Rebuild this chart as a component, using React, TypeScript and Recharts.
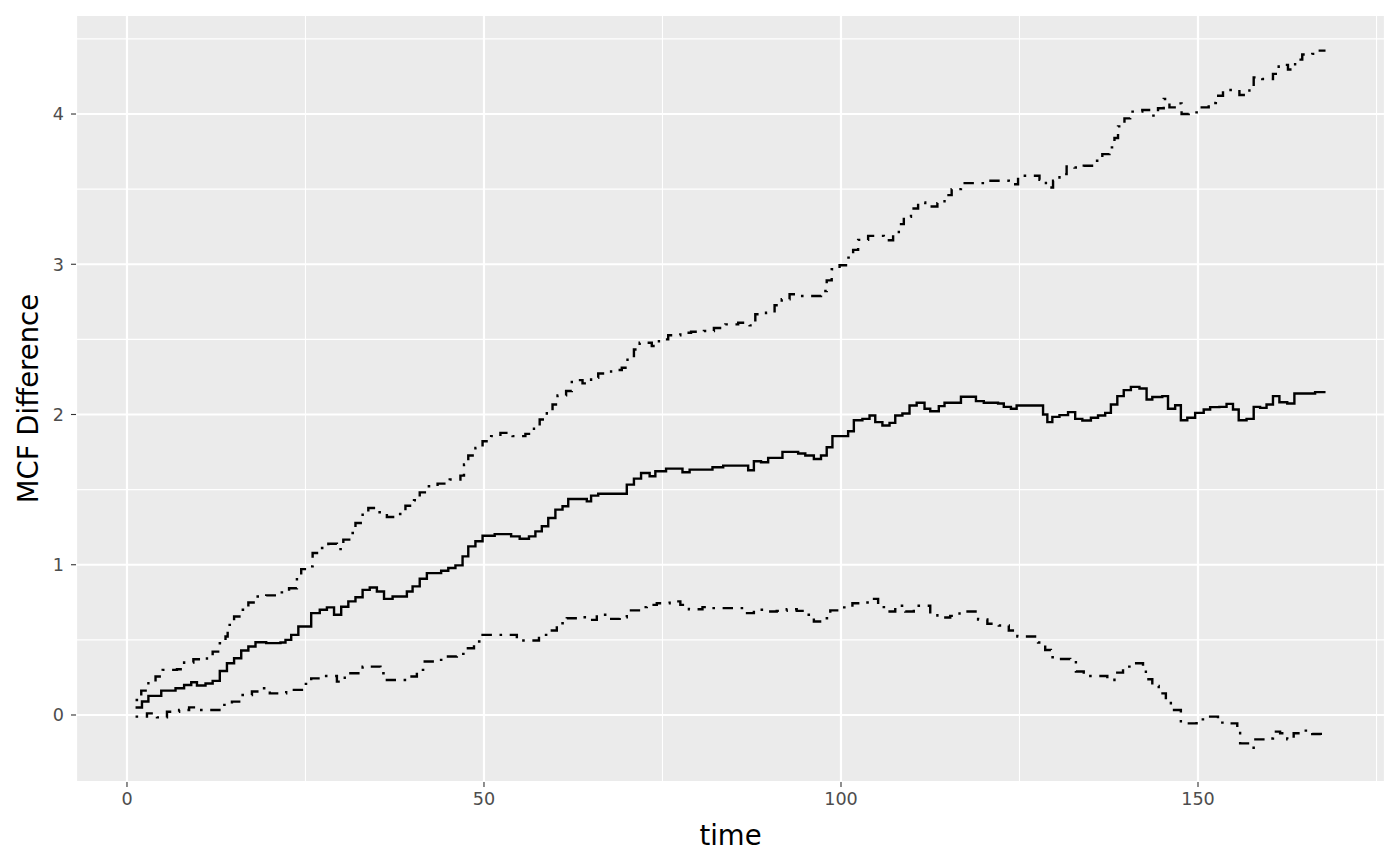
import React from "react";
import { LineChart, Line, XAxis, YAxis, CartesianGrid, ReferenceLine } from "recharts";

// [time, value] step points (value holds from this time until the next one)
const meanSteps: [number, number][] = [
  [1.2, 0.05], [2.1, 0.09], [3.0, 0.127], [4.8, 0.162], [6.8, 0.178], [8.0, 0.2], [9.0, 0.218], [9.8, 0.196],
  [11.0, 0.21], [12.0, 0.227], [13.0, 0.293], [14.0, 0.344], [15.0, 0.378], [16.0, 0.429], [17.0, 0.456],
  [18.0, 0.484], [19.5, 0.478], [21.5, 0.482], [22.2, 0.5], [23.0, 0.533], [24.0, 0.589], [25.8, 0.678],
  [27.0, 0.7], [28.0, 0.716], [29.0, 0.667], [30.0, 0.72], [31.0, 0.756], [32.0, 0.784], [33.0, 0.833],
  [34.0, 0.849], [35.0, 0.822], [36.0, 0.773], [37.2, 0.789], [39.2, 0.822], [40.0, 0.856], [41.0, 0.907],
  [42.0, 0.944], [44.0, 0.96], [45.0, 0.978], [46.0, 0.996], [47.0, 1.056], [47.8, 1.122], [48.8, 1.156],
  [49.8, 1.193], [51.5, 1.204], [53.8, 1.189], [55.0, 1.173], [56.3, 1.189], [57.2, 1.222], [58.1, 1.256],
  [59.0, 1.311], [60.0, 1.367], [61.0, 1.389], [61.8, 1.438], [64.4, 1.422], [65.0, 1.46], [66.0, 1.473],
  [70.0, 1.533], [71.0, 1.573], [72.0, 1.611], [73.2, 1.589], [74.0, 1.622], [75.5, 1.64], [77.8, 1.616],
  [78.8, 1.633], [82.0, 1.649], [83.5, 1.66], [87.0, 1.629], [87.8, 1.689], [88.8, 1.682], [89.8, 1.711],
  [91.8, 1.751], [94.0, 1.74], [95.0, 1.727], [96.2, 1.704], [97.2, 1.727], [98.0, 1.782], [98.8, 1.856],
  [101.0, 1.889], [101.8, 1.962], [103.0, 1.971], [104.0, 1.993], [104.8, 1.949], [105.8, 1.927],
  [106.8, 1.944], [107.6, 1.993], [108.6, 2.007], [109.6, 2.06], [110.6, 2.078], [111.7, 2.038],
  [112.5, 2.022], [113.7, 2.056], [114.5, 2.078], [116.8, 2.118], [118.9, 2.089], [120.0, 2.078],
  [122.0, 2.073], [122.8, 2.051], [123.8, 2.038], [124.6, 2.06], [128.3, 2.0], [128.9, 1.949],
  [129.6, 1.984], [130.6, 1.996], [131.8, 2.016], [132.8, 1.971], [133.8, 1.96], [135.0, 1.978],
  [136.0, 1.993], [137.0, 2.011], [137.8, 2.067], [138.7, 2.122], [139.6, 2.162], [140.6, 2.184],
  [141.8, 2.173], [142.8, 2.1], [143.6, 2.116], [145.0, 2.122], [145.8, 2.038], [146.8, 2.062],
  [147.6, 1.962], [148.5, 1.978], [149.6, 2.011], [150.8, 2.033], [151.7, 2.049], [153.0, 2.051],
  [154.0, 2.071], [154.9, 2.033], [155.7, 1.962], [156.8, 1.971], [157.8, 2.051], [158.7, 2.044],
  [159.6, 2.067], [160.5, 2.122], [161.4, 2.082], [162.5, 2.073], [163.5, 2.14], [166.4, 2.149],
  [167.86, 2.149],
];

const upperSteps: [number, number][] = [
  [1.2, 0.1], [2.0, 0.162], [3.0, 0.222], [4.0, 0.256], [5.0, 0.3], [7.0, 0.304], [8.0, 0.349], [9.3, 0.371],
  [10.8, 0.367], [11.2, 0.389], [12.0, 0.422], [13.0, 0.478], [13.8, 0.522], [14.1, 0.6], [15.0, 0.656],
  [16.0, 0.7], [17.0, 0.749], [18.0, 0.789], [19.5, 0.796], [21.3, 0.816], [22.7, 0.844], [23.8, 0.904],
  [24.4, 0.971], [25.5, 0.989], [26.0, 1.078], [27.0, 1.111], [28.2, 1.14], [29.4, 1.104], [30.3, 1.167],
  [31.3, 1.211], [32.0, 1.278], [33.0, 1.333], [33.8, 1.378], [35.0, 1.349], [36.4, 1.318], [37.8, 1.338],
  [39.0, 1.393], [40.2, 1.429], [41.0, 1.482], [42.0, 1.522], [43.5, 1.54], [45.2, 1.567], [46.7, 1.593],
  [47.2, 1.667], [47.8, 1.727], [48.8, 1.778], [49.8, 1.822], [51.0, 1.856], [52.3, 1.878], [54.0, 1.856],
  [55.8, 1.871], [57.0, 1.922], [57.8, 1.967], [58.8, 2.022], [59.6, 2.067], [60.3, 2.127], [61.5, 2.156],
  [62.3, 2.229], [63.8, 2.207], [65.0, 2.244], [66.0, 2.273], [67.8, 2.296], [69.3, 2.311], [70.1, 2.376],
  [71.0, 2.433], [71.8, 2.478], [73.5, 2.456], [74.5, 2.5], [75.8, 2.527], [77.5, 2.544], [79.0, 2.551],
  [80.8, 2.556], [82.2, 2.576], [83.8, 2.6], [85.6, 2.611], [87.2, 2.593], [88.0, 2.667], [89.5, 2.678],
  [90.7, 2.727], [91.7, 2.767], [92.8, 2.8], [94.3, 2.789], [97.2, 2.822], [98.0, 2.893], [98.7, 2.967],
  [99.8, 2.993], [100.7, 3.044], [101.7, 3.096], [102.4, 3.162], [103.8, 3.189], [106.0, 3.16],
  [107.3, 3.198], [108.1, 3.267], [108.8, 3.316], [109.8, 3.371], [110.8, 3.411], [111.8, 3.384],
  [113.5, 3.407], [114.5, 3.46], [115.5, 3.5], [116.8, 3.54], [120.3, 3.556], [123.5, 3.533],
  [124.8, 3.589], [127.8, 3.562], [128.7, 3.511], [129.7, 3.556], [130.6, 3.6], [131.6, 3.651],
  [132.7, 3.644], [134.0, 3.656], [135.4, 3.689], [136.6, 3.733], [137.6, 3.778], [138.3, 3.84],
  [138.8, 3.918], [139.7, 3.971], [140.5, 4.016], [142.2, 4.027], [143.4, 3.989], [144.4, 4.038],
  [145.2, 4.1], [146.0, 4.044], [147.0, 4.071], [147.7, 4.0], [148.7, 4.011], [150.0, 4.044],
  [151.5, 4.073], [152.5, 4.122], [153.5, 4.16], [155.8, 4.127], [157.2, 4.167], [157.8, 4.244],
  [159.0, 4.233], [160.5, 4.267], [161.3, 4.327], [162.6, 4.296], [163.6, 4.362], [164.6, 4.396],
  [166.0, 4.4], [166.8, 4.422], [167.86, 4.422],
];

const lowerSteps: [number, number][] = [
  [1.2, -0.011], [2.8, 0.011], [4.2, -0.016], [5.6, 0.022], [7.3, 0.033], [8.7, 0.051], [10.2, 0.033],
  [13.2, 0.067], [14.7, 0.089], [16.0, 0.133], [17.5, 0.156], [18.8, 0.178], [20.0, 0.144], [22.3, 0.167],
  [24.5, 0.207], [25.8, 0.244], [27.0, 0.26], [29.4, 0.222], [30.5, 0.278], [33.0, 0.322], [35.5, 0.278],
  [36.4, 0.233], [39.5, 0.256], [40.6, 0.3], [41.7, 0.356], [43.3, 0.367], [44.6, 0.389], [46.2, 0.407],
  [47.5, 0.444], [48.6, 0.489], [49.8, 0.533], [54.6, 0.496], [57.7, 0.533], [59.3, 0.562], [60.2, 0.611],
  [61.6, 0.644], [63.3, 0.651], [64.4, 0.633], [65.8, 0.667], [67.2, 0.64], [69.0, 0.651], [70.0, 0.696],
  [71.7, 0.718], [72.8, 0.733], [74.2, 0.744], [76.0, 0.756], [77.5, 0.733], [78.7, 0.704], [80.6, 0.718],
  [81.7, 0.711], [86.6, 0.678], [87.8, 0.7], [89.4, 0.689], [91.0, 0.693], [92.4, 0.704], [93.8, 0.693],
  [95.0, 0.667], [96.2, 0.622], [97.6, 0.644], [98.5, 0.696], [100.2, 0.716], [101.6, 0.744], [103.0, 0.749],
  [104.4, 0.773], [105.2, 0.718], [106.5, 0.689], [107.6, 0.727], [109.0, 0.689], [110.2, 0.727],
  [112.5, 0.673], [113.5, 0.649], [115.3, 0.66], [116.6, 0.689], [119.2, 0.636], [120.5, 0.607],
  [122.1, 0.596], [123.5, 0.562], [124.7, 0.522], [127.6, 0.482], [128.6, 0.433], [129.4, 0.384],
  [130.5, 0.373], [132.1, 0.362], [132.9, 0.289], [134.0, 0.26], [137.3, 0.233], [138.3, 0.282],
  [139.5, 0.322], [140.8, 0.344], [142.3, 0.318], [142.7, 0.238], [143.6, 0.193], [144.5, 0.144],
  [145.5, 0.096], [146.2, 0.033], [147.6, -0.056], [149.8, -0.029], [151.7, -0.011], [152.8, -0.051],
  [154.3, -0.056], [155.5, -0.1], [155.9, -0.189], [157.0, -0.218], [157.8, -0.162], [159.5, -0.156],
  [160.5, -0.111], [161.5, -0.122], [162.5, -0.162], [163.4, -0.122], [164.4, -0.104], [166.0, -0.127],
  [167.2, -0.14], [167.86, -0.14],
];

const xTicks = [0, 50, 100, 150];
const yTicks = [0, 1, 2, 3, 4];
const xMinorTicks = [25, 75, 125, 175];
const yMinorTicks = [0.5, 1.5, 2.5, 3.5, 4.5];
const xDomain: [number, number] = [-7.14, 176.19];
const yDomain: [number, number] = [-0.446, 4.659];

const toRows = (steps: [number, number][]) => steps.map(([t, v]) => ({ time: t, value: v }));

const FONT = "'DejaVu Sans', 'Liberation Sans', sans-serif";
const dashPattern = "2.6 7.6 10.4 7.6";

export default function App() {
  return (
    <div style={{ position: "absolute", left: 0, top: 0, width: 1400, height: 866, background: "#FFFFFF" }}>
      <LineChart
        width={1400}
        height={866}
        margin={{ top: 15, right: 15, bottom: 0, left: 0 }}
        style={{ fontFamily: FONT }}
      >
        <CartesianGrid fill="#EBEBEB" stroke="#FFFFFF" strokeWidth={2.2} />
        {xMinorTicks.map((v) => (
          <ReferenceLine key={"xm" + v} x={v} stroke="#FFFFFF" strokeWidth={1.1} />
        ))}
        {yMinorTicks.map((v) => (
          <ReferenceLine key={"ym" + v} y={v} stroke="#FFFFFF" strokeWidth={1.1} />
        ))}
        <XAxis
          type="number"
          dataKey="time"
          domain={xDomain}
          allowDataOverflow
          ticks={xTicks}
          interval={0}
          height={84}
          tickSize={5}
          tickMargin={6}
          axisLine={false}
          tickLine={{ stroke: "#333333", strokeWidth: 1.1 }}
          tick={{ fill: "#4D4D4D", fontSize: 17.6, fontFamily: FONT }}
          label={{
            content: () => (
              <text x={730.5} y={845} textAnchor="middle" fontSize={27.5} fill="#000000" fontFamily={FONT}>
                time
              </text>
            ),
          }}
        />
        <YAxis
          type="number"
          domain={yDomain}
          allowDataOverflow
          ticks={yTicks}
          interval={0}
          width={76}
          tickSize={5}
          tickMargin={7}
          axisLine={false}
          tickLine={{ stroke: "#333333", strokeWidth: 1.1 }}
          tick={{ fill: "#4D4D4D", fontSize: 17.6, fontFamily: FONT }}
          label={{
            content: () => (
              <text
                x={38}
                y={398.5}
                transform="rotate(-90 38 398.5)"
                textAnchor="middle"
                fontSize={27.5}
                fill="#000000"
                fontFamily={FONT}
              >
                MCF Difference
              </text>
            ),
          }}
        />
        <Line
          data={toRows(upperSteps)}
          dataKey="value"
          type="stepAfter"
          stroke="#000000"
          strokeWidth={2.4}
          strokeDasharray={dashPattern}
          dot={false}
          activeDot={false}
          isAnimationActive={false}
        />
        <Line
          data={toRows(meanSteps)}
          dataKey="value"
          type="stepAfter"
          stroke="#000000"
          strokeWidth={2.4}
          dot={false}
          activeDot={false}
          isAnimationActive={false}
        />
        <Line
          data={toRows(lowerSteps)}
          dataKey="value"
          type="stepAfter"
          stroke="#000000"
          strokeWidth={2.4}
          strokeDasharray={dashPattern}
          dot={false}
          activeDot={false}
          isAnimationActive={false}
        />
      </LineChart>
    </div>
  );
}
